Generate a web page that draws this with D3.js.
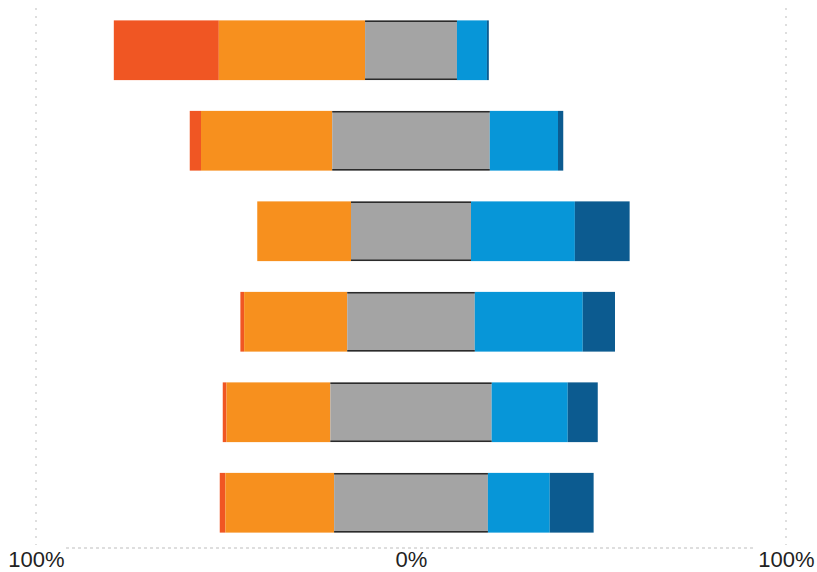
<!DOCTYPE html>
<html>
<head>
<meta charset="utf-8">
<script src="https://cdn.jsdelivr.net/npm/d3@7"></script>
<style>
  body { margin: 0; background: #fff; }
  .tick text { font-family: "Liberation Sans", Arial, sans-serif; font-size: 22px; fill: #222; }
</style>
</head>
<body>
<div id="chart"></div>
<script>
// rows top to bottom, values in percent
const categories = ["A", "B", "C", "D", "E", "F"];
const keys = ["strongNeg", "neg", "neutral", "pos", "strongPos"];
const strongNeg = [28, 3, 0, 1, 1, 1.5];
const neg       = [39, 35, 25, 27.5, 27.7, 29];
const neutral   = [24.5, 42, 32, 34, 43, 41];
const pos       = [8, 18.2, 27.7, 28.8, 20.3, 16.5];
const strongPos = [0.5, 1.4, 14.6, 8.6, 8, 11.7];
const tickValues = [-100, 0, 100];
const colors = ["#f05623", "#f7901e", "#a4a4a4", "#0796d8", "#0c5b90"];

const width = 817, height = 572;
const svg = d3.select("#chart").append("svg")
  .attr("width", width)
  .attr("height", height);

const x = d3.scaleLinear().domain([-100, 100]).range([36, 786]);
const y = d3.scaleBand().domain(categories).range([5, 548])
  .paddingInner(0.34).paddingOuter(0.17);
const color = d3.scaleOrdinal().domain(keys).range(colors);

// build segments: neutral is centred on 0
const rows = categories.map((c, i) => {
  const vals = [strongNeg[i], neg[i], neutral[i], pos[i], strongPos[i]];
  let start = -(vals[0] + vals[1] + vals[2] / 2);
  return vals.map((v, k) => {
    const seg = { cat: c, key: keys[k], x0: start, x1: start + v };
    start += v;
    return seg;
  });
});

// dotted guides
const guide = svg.append("g").attr("stroke", "#bdbdbd").attr("stroke-width", 1)
  .attr("stroke-dasharray", "2,6");
guide.append("line").attr("x1", x(-100)).attr("x2", x(-100)).attr("y1", 8).attr("y2", 545);
guide.append("line").attr("x1", x(100)).attr("x2", x(100)).attr("y1", 8).attr("y2", 545);
guide.append("line").attr("x1", x(-100) + 30).attr("x2", x(100) - 30).attr("y1", 548).attr("y2", 548)
  .attr("stroke-dasharray", "3,3");

const bars = svg.append("g");
bars.selectAll("g").data(rows).join("g")
  .selectAll("rect").data(d => d.filter(s => s.x1 > s.x0)).join("rect")
  .attr("x", d => x(d.x0))
  .attr("width", d => x(d.x1) - x(d.x0))
  .attr("y", d => y(d.cat))
  .attr("height", y.bandwidth())
  .attr("fill", d => color(d.key));

// thin dark edge on neutral segments
const edges = rows.map(r => r[2]);
bars.selectAll("line.edge").data(edges.flatMap(d => [
  { d, yy: y(d.cat) + 0.75 }, { d, yy: y(d.cat) + y.bandwidth() - 0.75 }
])).join("line")
  .attr("class", "edge")
  .attr("x1", e => x(e.d.x0)).attr("x2", e => x(e.d.x1))
  .attr("y1", e => e.yy).attr("y2", e => e.yy)
  .attr("stroke", "#2b2b2b").attr("stroke-width", 1.5);

const axis = d3.axisBottom(x).tickValues(tickValues)
  .tickFormat(d => Math.abs(d) + "%").tickSize(0);
svg.append("g").attr("transform", "translate(0,548)").call(axis)
  .call(g => g.select(".domain").remove())
  .selectAll("text").attr("dy", 0).attr("y", 19);
</script>
</body>
</html>
